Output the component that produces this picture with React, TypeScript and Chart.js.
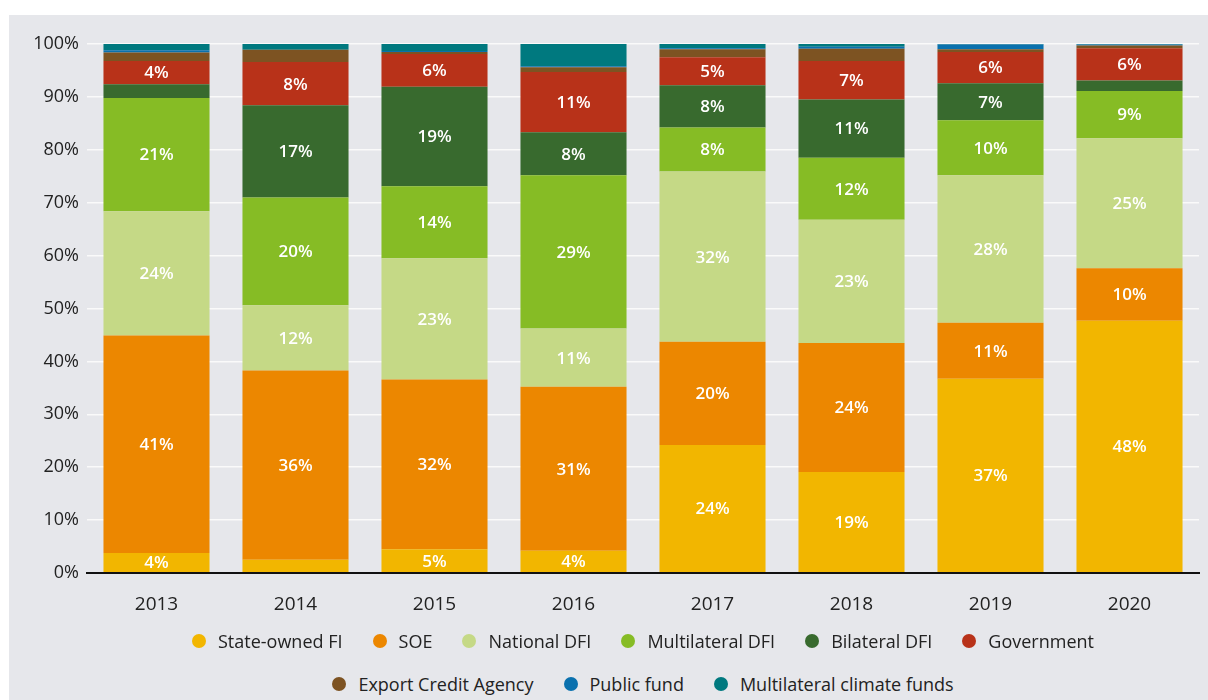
import React, { useEffect, useRef } from "react";
import { Chart, registerables } from "chart.js";

Chart.register(...registerables);

const years = ["2013", "2014", "2015", "2016", "2017", "2018", "2019", "2020"];
const stateOwnedFI = [3.8, 2.5, 4.5, 4.2, 24.2, 19.1, 36.7, 47.7];
const soe = [41.1, 35.8, 32.1, 31.0, 19.5, 24.4, 10.6, 9.9];
const nationalDFI = [23.5, 12.3, 22.9, 11.0, 32.2, 23.3, 27.9, 24.6];
const multilateralDFI = [21.4, 20.4, 13.6, 29.0, 8.3, 11.7, 10.4, 8.9];
const bilateralDFI = [2.6, 17.4, 18.8, 8.1, 8.0, 11.0, 7.0, 2.0];
const government = [4.4, 8.2, 6.2, 11.4, 5.3, 7.3, 5.9, 6.1];
const exportCreditAgency = [1.6, 2.3, 0.4, 0.9, 1.5, 2.3, 0.5, 0.5];
const publicFund = [0.4, 0.0, 0.2, 0.2, 0.2, 0.4, 0.9, 0.2];
const multilateralClimateFunds = [1.2, 1.1, 1.3, 4.2, 0.8, 0.5, 0.1, 0.1];

const yTicks = [0, 10, 20, 30, 40, 50, 60, 70, 80, 90, 100];

const seriesNames = [
  "State-owned FI",
  "SOE",
  "National DFI",
  "Multilateral DFI",
  "Bilateral DFI",
  "Government",
  "Export Credit Agency",
  "Public fund",
  "Multilateral climate funds",
];
const seriesData = [
  stateOwnedFI,
  soe,
  nationalDFI,
  multilateralDFI,
  bilateralDFI,
  government,
  exportCreditAgency,
  publicFund,
  multilateralClimateFunds,
];
const seriesColors = [
  "#f2b600",
  "#ec8700",
  "#c5d986",
  "#86bc25",
  "#386a2e",
  "#b83219",
  "#7d5322",
  "#0a71ae",
  "#00797f",
];
const labelledSeries = 6;

const FONT = "'Open Sans', 'DejaVu Sans', sans-serif";

const labelPlugin = {
  id: "barLabels",
  afterDatasetsDraw(chart: any) {
    const ctx = chart.ctx;
    ctx.save();
    ctx.fillStyle = "#ffffff";
    ctx.font = `600 17px ${FONT}`;
    ctx.textAlign = "center";
    ctx.textBaseline = "middle";
    chart.data.datasets.forEach((ds: any, di: number) => {
      if (di >= labelledSeries) return;
      const meta = chart.getDatasetMeta(di);
      meta.data.forEach((el: any, i: number) => {
        const v = ds.data[i];
        if (v >= 3.5) {
          const p = el.getProps(["x", "y", "base"], true);
          ctx.fillText(Math.round(v) + "%", p.x, (p.y + p.base) / 2 + 1);
        }
      });
    });
    ctx.restore();
  },
};

const legendRow1 = [0, 1, 2, 3, 4, 5];
const legendRow2 = [6, 7, 8];

function LegendRow({ idx, top }: { idx: number[]; top: number }) {
  return (
    <div
      style={{
        position: "absolute",
        left: 78,
        width: 1112,
        top,
        display: "flex",
        justifyContent: "center",
        alignItems: "center",
        fontFamily: FONT,
        fontSize: 18,
        color: "#222",
        whiteSpace: "nowrap",
      }}
    >
      {idx.map((i, k) => (
        <div
          key={i}
          style={{
            display: "flex",
            alignItems: "center",
            marginLeft: k === 0 ? 0 : 30,
          }}
        >
          <span
            style={{
              display: "inline-block",
              width: 14,
              height: 14,
              borderRadius: 7,
              background: seriesColors[i],
              marginRight: 12,
            }}
          />
          <span>{seriesNames[i]}</span>
        </div>
      ))}
    </div>
  );
}

export default function App() {
  const ref = useRef<HTMLCanvasElement | null>(null);

  useEffect(() => {
    if (!ref.current) return;
    const chart = new Chart(ref.current, {
      type: "bar",
      data: {
        labels: years,
        datasets: seriesData.map((d, i) => ({
          label: seriesNames[i],
          data: d,
          backgroundColor: seriesColors[i],
          borderWidth: 0,
          categoryPercentage: 1,
          barPercentage: 0.763,
        })),
      },
      options: {
        animation: false,
        responsive: false,
        maintainAspectRatio: false,
        layout: { padding: { left: 0, right: 9, top: 29, bottom: 0 } },
        plugins: {
          legend: { display: false },
          tooltip: { enabled: false },
        },
        scales: {
          x: {
            stacked: true,
            grid: { display: false },
            border: { display: true, color: "#111", width: 2, z: 1 },
            ticks: {
              color: "#222",
              font: { family: FONT, size: 19 },
              padding: 12,
            },
            afterFit(scale: any) {
              scale.height = 62;
            },
          },
          y: {
            stacked: true,
            min: 0,
            max: 100,
            afterBuildTicks(scale: any) {
              scale.ticks = yTicks.map((v) => ({ value: v }));
            },
            grid: {
              color: "#fafafa",
              lineWidth: 1.5,
              drawTicks: false,
            },
            border: { display: false },
            ticks: {
              color: "#222",
              font: { family: FONT, size: 18 },
              padding: 8,
              callback: (v: any) => v + "%",
            },
            afterFit(scale: any) {
              scale.width = 78;
            },
          },
        },
      },
      plugins: [labelPlugin],
    });
    return () => chart.destroy();
  }, []);

  return (
    <div
      style={{
        position: "absolute",
        left: 9,
        top: 15,
        width: 1199,
        height: 685,
        background: "#e6e7eb",
        overflow: "hidden",
      }}
    >
      <canvas
        ref={ref}
        width={1199}
        height={620}
        style={{ position: "absolute", left: 0, top: 0, width: 1199, height: 620 }}
      />
      <LegendRow idx={legendRow1} top={614} />
      <LegendRow idx={legendRow2} top={657} />
    </div>
  );
}
